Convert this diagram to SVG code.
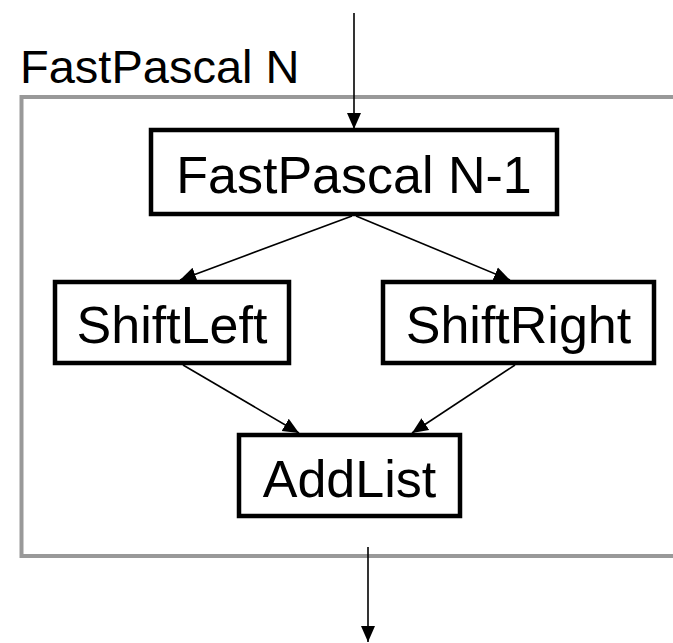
<svg xmlns="http://www.w3.org/2000/svg" width="673" height="643" viewBox="0 0 673 643">
<defs>
<style>
.box{fill:#fff;stroke:#000;stroke-width:4.5}
.lbl{font-family:"Liberation Sans",Arial,sans-serif;font-size:52px;fill:#000;text-anchor:middle}
.title{font-family:"Liberation Sans",Arial,sans-serif;font-size:47px;fill:#000}
.edge{stroke:#000;stroke-width:1.6;fill:none;marker-end:url(#ah)}
</style>
<marker id="ah" markerUnits="userSpaceOnUse" markerWidth="16" markerHeight="16" viewBox="0 0 16 14" refX="16" refY="7" orient="auto">
<path d="M0,0 L16,7 L0,14 z" fill="#000"/>
</marker>
</defs>
<rect width="673" height="643" fill="#fff"/>
<g id="frame">
<text class="title" x="20" y="83">FastPascal N</text>
<rect x="21.5" y="97" width="720" height="459" fill="none" stroke="#999" stroke-width="4"/>
</g>
<g id="connectors">
<line class="edge" x1="354" y1="13" x2="354" y2="129"/>
<line class="edge" x1="352" y1="216" x2="180" y2="280"/>
<line class="edge" x1="356" y1="216" x2="510" y2="280"/>
<line class="edge" x1="183" y1="365" x2="299" y2="433"/>
<line class="edge" x1="515" y1="365" x2="412" y2="433"/>
<line class="edge" x1="368" y1="547" x2="368" y2="642"/>
</g>
<g id="n1">
<rect class="box" x="151" y="130" width="406" height="84"/>
<text class="lbl" x="354" y="193">FastPascal N-1</text>
</g>
<g id="shiftleft">
<rect class="box" x="55" y="282" width="234" height="81"/>
<text class="lbl" x="172" y="343">ShiftLeft</text>
</g>
<g id="shiftright">
<rect class="box" x="383" y="282" width="271" height="81"/>
<text class="lbl" x="518.5" y="343">ShiftRight</text>
</g>
<g id="addlist">
<rect class="box" x="239" y="435" width="221" height="81"/>
<text class="lbl" x="349.5" y="497">AddList</text>
</g>
</svg>
